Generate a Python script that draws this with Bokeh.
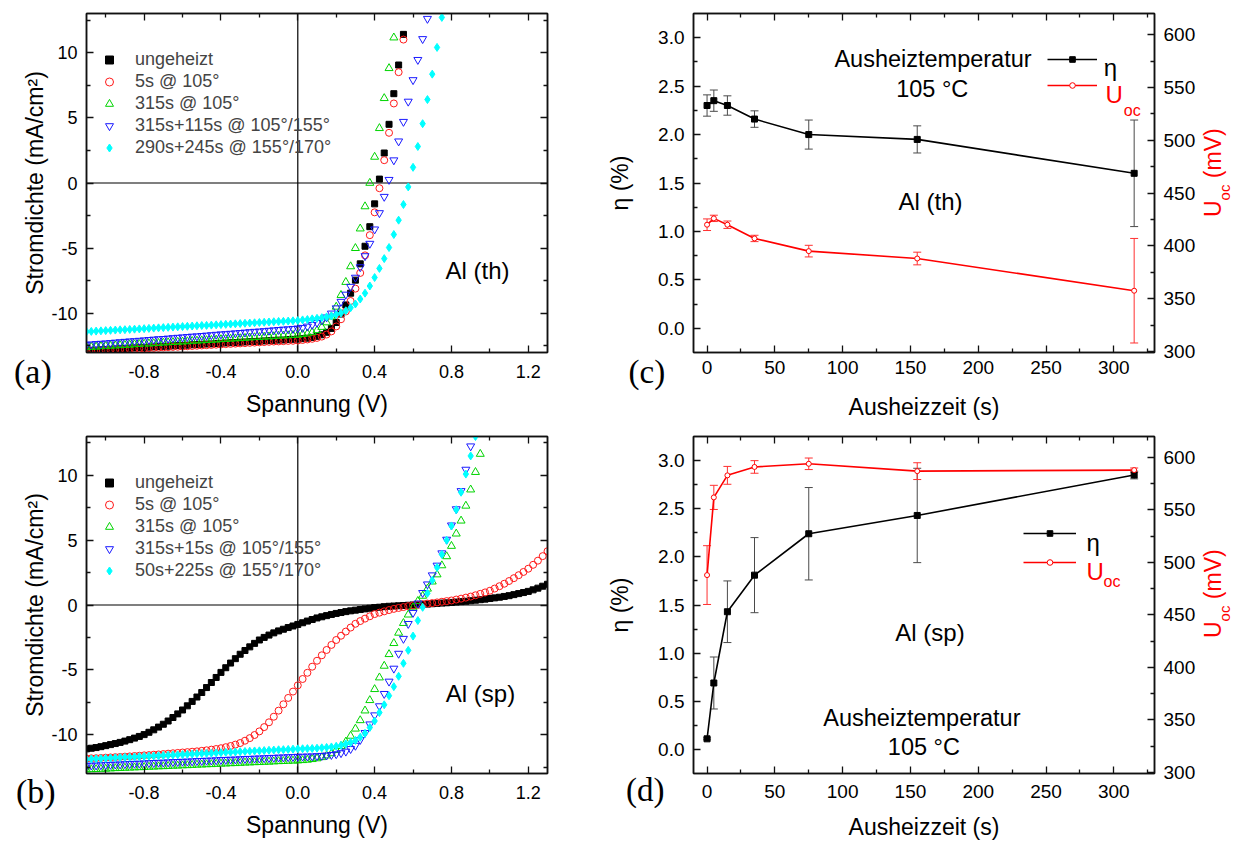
import math
from bokeh.plotting import figure
from bokeh.layouts import column, row
from bokeh.models import (ColumnDataSource, Range1d, LinearAxis, FixedTicker,
                          PrintfTickFormatter, CustomJSTickFormatter, Span, Label,
                          Legend, LegendItem, Whisker, TeeHead, Div)
from bokeh.embed import file_html
from bokeh.resources import INLINE

SANS = "Liberation Sans"
SERIF = "Liberation Serif"
INK = "#111111"

# ---------------- data ----------------
V = [-1.1, -1.075, -1.05, -1.025, -1.0, -0.975, -0.95, -0.925, -0.9, -0.875,
     -0.85, -0.825, -0.8, -0.775, -0.75, -0.725, -0.7, -0.675, -0.65, -0.625,
     -0.6, -0.575, -0.55, -0.525, -0.5, -0.475, -0.45, -0.425, -0.4, -0.375,
     -0.35, -0.325, -0.3, -0.275, -0.25, -0.225, -0.2, -0.175, -0.15, -0.125,
     -0.1, -0.075, -0.05, -0.025, 0.0, 0.025, 0.05, 0.075, 0.1, 0.125,
     0.15, 0.175, 0.2, 0.225, 0.25, 0.275, 0.3, 0.325, 0.35, 0.375,
     0.4, 0.425, 0.45, 0.475, 0.5, 0.525, 0.55, 0.575, 0.6, 0.625,
     0.65, 0.675, 0.7, 0.725, 0.75, 0.775, 0.8, 0.825, 0.85, 0.875,
     0.9, 0.925, 0.95, 0.975, 1.0, 1.025, 1.05, 1.075, 1.1, 1.125,
     1.15, 1.175, 1.2, 1.225, 1.25, 1.275, 1.3]

NAMES_A = ["ungeheizt", "5s @ 105°", "315s @ 105°", "315s+115s @ 105°/155°", "290s+245s @ 155°/170°"]
NAMES_B = ["ungeheizt", "5s @ 105°", "315s @ 105°", "315s+15s @ 105°/155°", "50s+225s @ 155°/170°"]

A_BLACK = [-12.85, -12.83, -12.82, -12.79, -12.77, -12.76, -12.73, -12.71, -12.7, -12.67,
           -12.65, -12.63, -12.62, -12.59, -12.57, -12.55, -12.53, -12.52, -12.49, -12.47,
           -12.45, -12.44, -12.41, -12.39, -12.37, -12.35, -12.34, -12.31, -12.29, -12.27,
           -12.25, -12.24, -12.21, -12.19, -12.17, -12.15, -12.14, -12.11, -12.09, -12.07,
           -12.05, -12.04, -12.01, -11.99, -11.97,
           -11.94, -11.9, -11.84, -11.76, -11.64, -11.45, -11.15, -10.7, -10.05, -9.35,
           -8.45, -7.45, -6.2, -4.85, -3.35, -1.6, 0.3, 2.3, 4.5, 6.85, 9.05, 11.4]
A_RED = [-12.92, -12.9, -12.88, -12.86, -12.84, -12.82, -12.8, -12.78, -12.77, -12.75,
         -12.73, -12.71, -12.69, -12.67, -12.65, -12.63, -12.61, -12.59, -12.57, -12.56,
         -12.54, -12.52, -12.5, -12.48, -12.46, -12.44, -12.42, -12.4, -12.38, -12.36,
         -12.34, -12.32, -12.3, -12.28, -12.26, -12.24, -12.22, -12.2, -12.18, -12.16,
         -12.15, -12.13, -12.11, -12.1, -12.08,
         -12.04, -12.0, -11.95, -11.88, -11.78, -11.62, -11.38, -11.0, -10.45, -9.85,
         -9.05, -8.1, -6.9, -5.55, -4.0, -2.25, -0.4, 1.75, 3.85, 6.1, 8.5, 11.0]
A_GREEN = [-12.6, -12.58, -12.56, -12.53, -12.51, -12.49, -12.47, -12.45, -12.43, -12.41,
           -12.38, -12.36, -12.34, -12.32, -12.3, -12.28, -12.25, -12.23, -12.21, -12.19,
           -12.17, -12.15, -12.12, -12.1, -12.08, -12.06, -12.04, -12.02, -11.99, -11.97,
           -11.95, -11.93, -11.91, -11.89, -11.86, -11.84, -11.82, -11.8, -11.78, -11.76,
           -11.73, -11.71, -11.69, -11.67, -11.65,
           -11.6, -11.55, -11.45, -11.3, -11.05, -10.7, -10.25, -9.5, -8.6, -7.6,
           -6.4, -5.0, -3.5, -1.8, 0.0, 2.0, 4.2, 6.5, 8.8, 11.15]
A_BLUE = [-12.4, -12.37, -12.34, -12.32, -12.29, -12.26, -12.23, -12.2, -12.17, -12.14,
          -12.12, -12.09, -12.06, -12.03, -12.0, -11.97, -11.95, -11.92, -11.89, -11.86,
          -11.83, -11.8, -11.77, -11.75, -11.72, -11.69, -11.66, -11.63, -11.6, -11.58,
          -11.55, -11.52, -11.49, -11.46, -11.43, -11.4, -11.38, -11.35, -11.32, -11.29,
          -11.26, -11.23, -11.21, -11.18, -11.15,
          -11.1, -11.0, -10.87, -10.72, -10.53, -10.3, -10.0, -9.6, -9.1, -8.55,
          -7.95, -7.25, -6.45, -5.6, -4.65, -3.55, -2.3, -1.05, 0.25, 1.75,
          3.2, 4.7, 6.25, 7.9, 9.45, 11.05, 12.6]
A_CYAN = [-11.4, -11.38, -11.36, -11.34, -11.32, -11.3, -11.28, -11.26, -11.25, -11.23,
          -11.21, -11.19, -11.17, -11.15, -11.13, -11.11, -11.09, -11.07, -11.05, -11.03,
          -11.01, -10.99, -10.97, -10.95, -10.93, -10.92, -10.9, -10.88, -10.86, -10.84,
          -10.82, -10.8, -10.78, -10.76, -10.74, -10.72, -10.7, -10.68, -10.66, -10.64,
          -10.62, -10.61, -10.59, -10.57, -10.55,
          -10.5, -10.47, -10.42, -10.38, -10.33, -10.27, -10.2, -10.1, -9.98, -9.8,
          -9.57, -9.28, -8.9, -8.45, -7.9, -7.25, -6.55, -5.8, -4.95, -3.95,
          -2.85, -1.65, -0.3, 1.2, 2.8, 4.55, 6.4, 8.35, 10.4, 12.7]

B_BLACK = [-11.1, -11.05, -11.0, -10.93, -10.85, -10.77, -10.69, -10.6, -10.5, -10.39,
           -10.27, -10.14, -10.0, -9.82, -9.63, -9.42, -9.2, -8.95, -8.68, -8.4,
           -8.1, -7.78, -7.44, -7.1, -6.75, -6.37, -5.98, -5.59, -5.2, -4.84,
           -4.48, -4.14, -3.8, -3.51, -3.23, -2.96, -2.7, -2.5, -2.32, -2.15,
           -2.0, -1.87, -1.74, -1.62, -1.5, -1.37, -1.24, -1.12, -1.0, -0.91,
           -0.82, -0.73, -0.65, -0.58, -0.51, -0.45, -0.4, -0.35, -0.3, -0.25,
           -0.2, -0.17, -0.13, -0.1, -0.08, -0.06, -0.04, -0.02, 0.0, 0.02,
           0.05, 0.07, 0.1, 0.12, 0.15, 0.17, 0.2, 0.23, 0.26, 0.29,
           0.33, 0.37, 0.41, 0.45, 0.5, 0.55, 0.6, 0.66, 0.72, 0.8,
           0.88, 0.96, 1.05, 1.17, 1.3, 1.45, 1.6]
B_RED = [-11.85, -11.83, -11.82, -11.8, -11.78, -11.76, -11.74, -11.72, -11.7, -11.68,
         -11.65, -11.63, -11.6, -11.58, -11.55, -11.53, -11.5, -11.47, -11.44, -11.41,
         -11.38, -11.35, -11.32, -11.29, -11.25, -11.21, -11.16, -11.11, -11.05, -10.97,
         -10.88, -10.77, -10.65, -10.47, -10.27, -10.03, -9.75, -9.42, -9.05, -8.62,
         -8.15, -7.66, -7.17, -6.68, -6.2, -5.71, -5.23, -4.76, -4.3, -3.88,
         -3.47, -3.08, -2.7, -2.37, -2.05, -1.74, -1.45, -1.24, -1.05, -0.87,
         -0.7, -0.59, -0.49, -0.39, -0.3, -0.23, -0.16, -0.09, -0.03, 0.02,
         0.06, 0.11, 0.15, 0.2, 0.25, 0.3, 0.35, 0.42, 0.49, 0.57,
         0.65, 0.75, 0.86, 0.97, 1.1, 1.27, 1.45, 1.64, 1.85, 2.07,
         2.3, 2.55, 2.8, 3.1, 3.42, 3.77, 4.15]
B_GREEN = [-12.7, -12.68, -12.67, -12.65, -12.64, -12.62, -12.6, -12.59, -12.57, -12.56,
           -12.54, -12.53, -12.51, -12.49, -12.48, -12.46, -12.45, -12.43, -12.41, -12.4,
           -12.38, -12.37, -12.35, -12.33, -12.32, -12.3, -12.29, -12.27, -12.25, -12.24,
           -12.22, -12.21, -12.19, -12.17, -12.16, -12.14, -12.13, -12.11, -12.1, -12.08,
           -12.06, -12.05, -12.03, -12.02, -12.0,
           -11.98, -11.95, -11.9, -11.84, -11.75, -11.62, -11.45, -11.2, -10.9, -10.55,
           -10.1, -9.55, -8.9, -8.15, -7.35, -6.5, -5.6, -4.7, -3.8, -2.95,
           -2.15, -1.4, -0.75, -0.2, 0.3, 0.7, 1.25, 1.8, 2.35, 3.05,
           3.75, 4.55, 5.5, 6.5, 7.65, 8.9, 10.25, 11.65]
B_BLUE = [-12.4, -12.38, -12.37, -12.35, -12.34, -12.32, -12.3, -12.29, -12.27, -12.26,
          -12.24, -12.23, -12.21, -12.19, -12.18, -12.16, -12.15, -12.13, -12.11, -12.1,
          -12.08, -12.07, -12.05, -12.03, -12.02, -12.0, -11.99, -11.97, -11.95, -11.94,
          -11.92, -11.91, -11.89, -11.87, -11.86, -11.84, -11.83, -11.81, -11.8, -11.78,
          -11.76, -11.75, -11.73, -11.72, -11.7,
          -11.69, -11.68, -11.67, -11.65, -11.63, -11.6, -11.56, -11.5, -11.42, -11.3,
          -11.1, -10.85, -10.4, -9.86, -9.2, -8.5, -7.8, -6.85, -5.9, -4.9,
          -3.75, -2.6, -1.45, -0.6, 0.13, 0.94, 1.6, 2.3, 3.05, 4.0,
          5.05, 6.15, 7.4, 8.8, 10.45, 12.25]
B_CYAN = [-11.9, -11.88, -11.86, -11.85, -11.83, -11.81, -11.79, -11.77, -11.75, -11.74,
          -11.72, -11.7, -11.68, -11.66, -11.65, -11.63, -11.61, -11.59, -11.57, -11.56,
          -11.54, -11.52, -11.5, -11.48, -11.46, -11.45, -11.43, -11.41, -11.39, -11.37,
          -11.36, -11.34, -11.32, -11.3, -11.28, -11.26, -11.25, -11.23, -11.21, -11.19,
          -11.17, -11.16, -11.14, -11.12, -11.1,
          -11.09, -11.08, -11.07, -11.05, -11.02, -10.99, -10.95, -10.9, -10.82, -10.72,
          -10.6, -10.45, -10.2, -9.9, -9.45, -8.95, -8.3, -7.7, -7.0, -6.3,
          -5.5, -4.5, -3.5, -2.4, -1.2, -0.18, 0.9, 1.9, 2.9, 3.9,
          5.0, 6.1, 7.35, 8.7, 10.1, 11.5, 13.0]

T = [0, 5, 15, 35, 75, 155, 315]
C_ETA = [2.30, 2.35, 2.30, 2.16, 2.00, 1.95, 1.60]
C_ETA_ERR = [0.11, 0.11, 0.10, 0.085, 0.15, 0.14, 0.55]
C_UOC = [420, 426, 420, 407, 395, 388, 357.5]
C_UOC_ERR = [5.5, 3.0, 3.5, 3.0, 5.5, 6.0, 49.5]
D_ETA = [0.11, 0.69, 1.43, 1.81, 2.24, 2.43, 2.85]
D_ETA_ERR = [0.01, 0.27, 0.32, 0.39, 0.48, 0.49, 0.04]
D_UOC = [488, 562, 583, 591, 594, 587, 588]
D_UOC_ERR = [28, 11.5, 8.5, 6.0, 5.5, 8.0, 2.0]

JV_XTICKS = [-0.8, -0.4, 0.0, 0.4, 0.8, 1.2]
JV_XMINOR = [-1.0, -0.6, -0.2, 0.2, 0.6, 1.0]
JV_YTICKS = [-10, -5, 0, 5, 10]
JV_YMINOR = [-12.5, -7.5, -2.5, 2.5, 7.5, 12.5]
T_TICKS = [0, 50, 100, 150, 200, 250, 300]
T_MINOR = [25, 75, 125, 175, 225, 275, 325]
ETA_TICKS = [0.0, 0.5, 1.0, 1.5, 2.0, 2.5, 3.0]
ETA_MINOR = [0.25, 0.75, 1.25, 1.75, 2.25, 2.75]
UOC_TICKS = [300, 350, 400, 450, 500, 550, 600]
UOC_MINOR = [325, 375, 425, 475, 525, 575]

STYLES = [
    dict(marker="square", size=6, fill_color="black", line_color="black", line_width=1),
    dict(marker="circle", size=7, fill_color=None, line_color="#ff1a1a", line_width=1),
    dict(marker="triangle", size=8, fill_color=None, line_color="#00d400", line_width=1),
    dict(marker="inverted_triangle", size=8, fill_color=None, line_color="#1a1aff", line_width=1),
    dict(marker="diamond", size=8, fill_color="#00ffff", line_color="#00ffff", line_width=1),
]


# ---------------- helpers ----------------
def style_axis(ax, label_px, standoff, axis_standoff=None, line_h=None):
    ax.axis_line_color = INK
    ax.axis_line_width = 1.5
    ax.major_tick_in = 7
    ax.major_tick_out = 0
    ax.minor_tick_in = 4
    ax.minor_tick_out = 0
    ax.major_tick_line_color = INK
    ax.minor_tick_line_color = INK
    ax.major_tick_line_width = 1.3
    ax.minor_tick_line_width = 1.3
    ax.major_label_text_font = SANS
    ax.major_label_text_font_size = f"{label_px}px"
    ax.major_label_text_color = "black"
    ax.major_label_standoff = standoff
    ax.axis_label_text_font = SANS
    ax.axis_label_text_font_size = "23px"
    ax.axis_label_text_font_style = "normal"
    ax.axis_label_text_color = "black"
    if axis_standoff is not None:
        ax.axis_label_standoff = axis_standoff
    if line_h is not None:
        ax.major_label_text_line_height = line_h
        ax.axis_label_text_line_height = line_h


def mirror_axis(p, ticker, place):
    ax = LinearAxis(ticker=ticker, formatter=CustomJSTickFormatter(code="return ''"))
    style_axis(ax, 0, 0)
    ax.major_label_text_font_size = "0px"
    p.add_layout(ax, place)


def base_fig(w, h, left, right, top, bottom, xr, yr):
    p = figure(width=w, height=h, x_range=xr, y_range=yr, output_backend="svg",
               toolbar_location=None, min_border_left=left, min_border_right=right,
               min_border_top=top, min_border_bottom=bottom)
    p.xgrid.visible = False
    p.ygrid.visible = False
    p.outline_line_color = INK
    p.outline_line_width = 1.5
    p.background_fill_color = "white"
    p.border_fill_color = "white"
    return p


def add_text(p, text, x, y, size, font=SANS, color="black", align="center",
             baseline="middle", angle=0.0):
    p.add_layout(Label(x=x, y=y, x_units="screen", y_units="screen", text=text,
                       text_font=font, text_font_size=f"{size}px", text_color=color,
                       text_align=align, text_baseline=baseline, angle=angle))


def html_label(html, left, top, extra=None):
    styles = {"position": "absolute", "left": f"{left}px", "top": f"{top}px",
              "margin": "0", "padding": "0", "line-height": "1",
              "white-space": "nowrap", "z-index": "10"}
    if extra:
        styles.update(extra)
    return Div(text=html, styles=styles)


def jv_panel(series, names, h, top, bottom, tick_so, lab_so, leg_y, al_text, al_xy,
             line_h=None):
    p = base_fig(600, h, 86, 53, top, bottom, Range1d(-1.1, 1.3), Range1d(-13, 13))
    p.xaxis.ticker = FixedTicker(ticks=JV_XTICKS, minor_ticks=JV_XMINOR)
    p.xaxis.formatter = PrintfTickFormatter(format="%.1f")
    p.yaxis.ticker = FixedTicker(ticks=JV_YTICKS, minor_ticks=JV_YMINOR)
    p.yaxis.formatter = PrintfTickFormatter(format="%d")
    p.xaxis.axis_label = "Spannung (V)"
    p.yaxis.axis_label = "Stromdichte (mA/cm²)"
    style_axis(p.xaxis[0], 18, tick_so, lab_so, line_h)
    style_axis(p.yaxis[0], 18, 9, 0)
    mirror_axis(p, FixedTicker(ticks=JV_XTICKS, minor_ticks=JV_XMINOR), "above")
    mirror_axis(p, FixedTicker(ticks=JV_YTICKS, minor_ticks=JV_YMINOR), "right")
    p.add_layout(Span(location=0, dimension="width", line_color="black",
                      line_width=1.2, level="underlay"))
    p.add_layout(Span(location=0, dimension="height", line_color="black",
                      line_width=1.2, level="underlay"))
    items = []
    for ys, style, name in zip(series, STYLES, names):
        src = ColumnDataSource(dict(v=V[:len(ys)], j=ys))
        r = p.scatter("v", "j", source=src, **style)
        items.append(LegendItem(label=name, renderers=[r]))
    leg = Legend(items=items, location=(13, leg_y), glyph_width=20, glyph_height=21,
                 label_height=21, label_standoff=16, spacing=1, padding=0, margin=0,
                 label_text_font=SANS, label_text_font_size="18px",
                 border_line_color=None, background_fill_alpha=0)
    p.add_layout(leg)
    add_text(p, al_text, al_xy[0], al_xy[1], 24)
    return p


def eff_panel(eta, eta_err, uoc, uoc_err, h, top, bottom, tick_so, lab_so,
              leg_x, leg_gw, leg_y_eta, leg_y_u, eta_txt, u_txt, oc_xy,
              al_text, al_xy, temp_xy, deg_xy, line_h=None):
    p = base_fig(639, h, 93, 85, top, bottom, Range1d(-10, 330), Range1d(-0.25, 3.25))
    p.extra_y_ranges = {"uoc": Range1d(299, 620)}
    p.xaxis.ticker = FixedTicker(ticks=T_TICKS, minor_ticks=T_MINOR)
    p.xaxis.formatter = PrintfTickFormatter(format="%d")
    p.yaxis.ticker = FixedTicker(ticks=ETA_TICKS, minor_ticks=ETA_MINOR)
    p.yaxis.formatter = PrintfTickFormatter(format="%.1f")
    p.xaxis.axis_label = "Ausheizzeit (s)"
    p.yaxis.axis_label = "η (%)"
    style_axis(p.xaxis[0], 19, tick_so, lab_so, line_h)
    style_axis(p.yaxis[0], 19, 9, 22)
    right = LinearAxis(y_range_name="uoc",
                       ticker=FixedTicker(ticks=UOC_TICKS, minor_ticks=UOC_MINOR),
                       formatter=PrintfTickFormatter(format="%d"))
    style_axis(right, 19, 9)
    p.add_layout(right, "right")
    mirror_axis(p, FixedTicker(ticks=T_TICKS, minor_ticks=T_MINOR), "above")

    src = ColumnDataSource(dict(
        t=T, eta=eta, uoc=uoc,
        eta_lo=[a - e for a, e in zip(eta, eta_err)],
        eta_hi=[a + e for a, e in zip(eta, eta_err)],
        uoc_lo=[a - e for a, e in zip(uoc, uoc_err)],
        uoc_hi=[a + e for a, e in zip(uoc, uoc_err)]))
    ecol = "#4a4a4a"
    p.add_layout(Whisker(source=src, base="t", lower="eta_lo", upper="eta_hi",
                         line_color=ecol, line_width=1,
                         upper_head=TeeHead(size=8, line_color=ecol, line_width=1),
                         lower_head=TeeHead(size=8, line_color=ecol, line_width=1)))
    ucol = "#ff3030"
    p.add_layout(Whisker(source=src, base="t", lower="uoc_lo", upper="uoc_hi",
                         y_range_name="uoc", line_color=ucol, line_width=1,
                         upper_head=TeeHead(size=8, line_color=ucol, line_width=1),
                         lower_head=TeeHead(size=8, line_color=ucol, line_width=1)))
    eta_line = p.line("t", "eta", source=src, line_color="black", line_width=1.6)
    eta_pts = p.scatter("t", "eta", source=src, marker="square", size=6,
                        fill_color="black", line_color="black")
    uoc_line = p.line("t", "uoc", source=src, y_range_name="uoc",
                      line_color="#ff0000", line_width=1.6)
    uoc_pts = p.scatter("t", "uoc", source=src, y_range_name="uoc", marker="circle",
                        size=5, fill_color="white", line_color="#ff0000", line_width=1)

    # legend glyphs (line + marker sample); label texts drawn as separate labels
    for rends, ly in (([eta_line, eta_pts], leg_y_eta), ([uoc_line, uoc_pts], leg_y_u)):
        p.add_layout(Legend(items=[LegendItem(label=" ", renderers=rends)],
                            location=(leg_x, ly), glyph_width=leg_gw, glyph_height=14,
                            label_height=14, label_standoff=0, spacing=0,
                            padding=0, margin=0, label_text_font=SANS,
                            label_text_font_size="1px",
                            border_line_color=None, background_fill_alpha=0))
    add_text(p, "η", eta_txt[0], eta_txt[1], 24, align="left", baseline="alphabetic")
    add_text(p, "U", u_txt[0], u_txt[1], 24, color="#ff0000", align="left",
             baseline="alphabetic")
    add_text(p, "oc", oc_xy[0], oc_xy[1], 16, color="#ff0000", align="left",
             baseline="alphabetic")
    add_text(p, al_text, al_xy[0], al_xy[1], 24)
    add_text(p, "Ausheiztemperatur", temp_xy[0], temp_xy[1], 23.5)
    add_text(p, "105 °C", deg_xy[0], deg_xy[1], 23.5)
    return p


pa = jv_panel([A_BLACK, A_RED, A_GREEN, A_BLUE, A_CYAN], NAMES_A, 433, 13, 81, 12, 10,
              194, "Al (th)", (391, 82))
pb = jv_panel([B_BLACK, B_RED, B_GREEN, B_BLUE, B_CYAN], NAMES_B, 413, 0, 73, 12, 10,
              192, "Al (sp)", (394, 80), line_h=0.8)
pc = eff_panel(C_ETA, C_ETA_ERR, C_UOC, C_UOC_ERR, 433, 13, 76, 8, 17,
               353.7, 50, 286, 260, (410.3, 285.3), (412, 258), (430.3, 242),
               "Al (th)", (237, 151), (239.5, 294), (238.7, 264), line_h=0.8)
pd = eff_panel(D_ETA, D_ETA_ERR, D_UOC, D_UOC_ERR, 413, 3, 69, 11, 13,
               330, 53, 232.7, 204.3, (393, 231.5), (393, 202), (410, 192),
               "Al (sp)", (236.5, 141), (228.4, 55.3), (230.4, 27), line_h=0.8)

TAG_STYLE = "font-family:'Liberation Serif';font-size:34px;line-height:1;color:#000;"
UOC_HTML = ("<span style=\"font-family:'Liberation Sans';font-size:23px;line-height:1;"
            "color:#ff0000;white-space:nowrap;\">U<span style=\"font-size:15px;"
            "position:relative;top:9px;\">oc</span> (mV)</span>")
ROT = {"transform": "rotate(-90deg)", "transform-origin": "0 0",
       "font-size": "23px", "font-family": "Liberation Sans"}

overlays = [
    html_label(f'<span style="{TAG_STYLE}">(a)</span>', 14, 353.5, {"font-size": "34px"}),
    html_label(f'<span style="{TAG_STYLE}">(b)</span>', 16, 773.5, {"font-size": "34px"}),
    html_label(f'<span style="{TAG_STYLE}font-size:33px;">(c)</span>', 628.5, 355, {"font-size": "33px"}),
    html_label(f'<span style="{TAG_STYLE}font-size:33px;">(d)</span>', 626, 773.3, {"font-size": "33px"}),
    html_label(UOC_HTML, 1201.5, 217, ROT),
    html_label(UOC_HTML, 1201.5, 638.3, ROT),
]

layout = column(row(pa, pc), row(pb, pd), *overlays)
open("out.html", "w").write(file_html(layout, INLINE))
